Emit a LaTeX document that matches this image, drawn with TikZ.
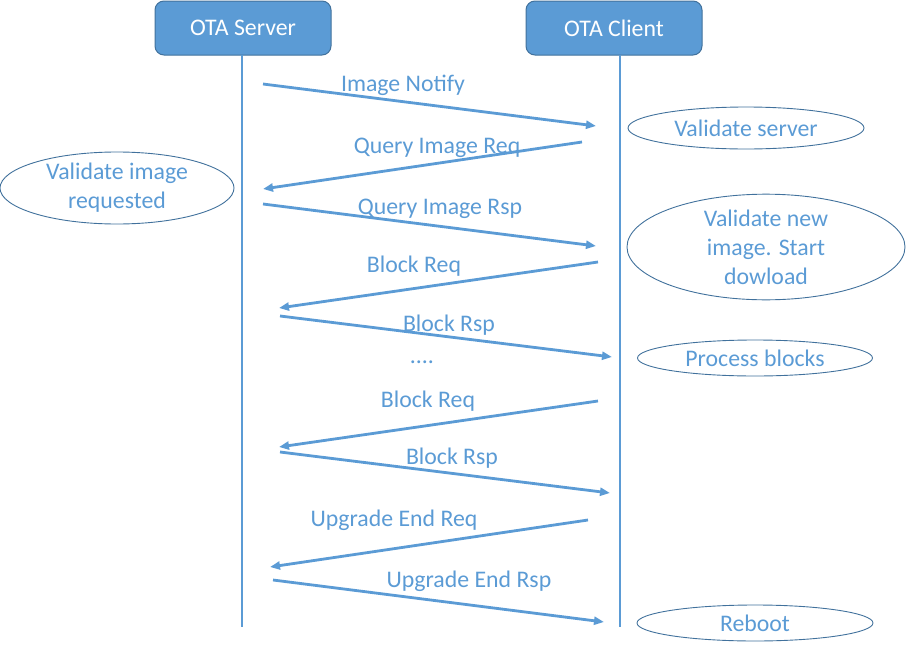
\documentclass[tikz,border=0pt]{standalone}
\usepackage{fontspec}
\setmainfont{Carlito}
\usetikzlibrary{shapes.geometric,arrows.meta}
\definecolor{lblue}{HTML}{5B9BD5}
\definecolor{dblue}{HTML}{41719C}
\begin{document}
\begin{tikzpicture}[x=1pt,y=-1pt,
  font=\fontsize{23.8}{29}\selectfont,
  actor/.style={draw=dblue,line width=1pt,fill=lblue,rounded corners=9pt,text=white,minimum width=176pt,minimum height=54pt,inner sep=0pt},
  life/.style={draw=lblue,line width=2.8pt},
  msg/.style={draw=lblue,line width=2.8pt,-{Triangle[length=10pt,width=8pt]}},
  lbl/.style={text=lblue,inner sep=0pt},
  note/.style={ellipse,draw=dblue,line width=0.9pt,text=lblue,align=center,inner sep=0pt}]
\useasboundingbox (0,0) rectangle (906,651);
\node[actor] (srv) at (243,28) {OTA Server};
\node[actor] (cli) at (614,28) {OTA Client};
\coordinate (srvEnd) at (242,627);
\coordinate (cliEnd) at (620,627);
\draw[life] (242,55) -- (srvEnd);
\draw[life] (620,55) -- (cliEnd);
% message endpoints
\coordinate (a1) at (263,84);  \coordinate (b1) at (596,126);
\coordinate (a2) at (582,142); \coordinate (b2) at (263,189);
\coordinate (a3) at (263,204); \coordinate (b3) at (596,246);
\coordinate (a4) at (598,262); \coordinate (b4) at (279,308);
\coordinate (a5) at (280,316); \coordinate (b5) at (612,357);
\coordinate (a6) at (598,401); \coordinate (b6) at (279,447);
\coordinate (a7) at (280,452); \coordinate (b7) at (610,493);
\coordinate (a8) at (588,520); \coordinate (b8) at (270,567);
\coordinate (a9) at (273,580); \coordinate (b9) at (604,622);
\draw[msg] (a1) -- (b1);
\draw[msg] (a2) -- (b2);
\draw[msg] (a3) -- (b3);
\draw[msg] (a4) -- (b4);
\draw[msg] (a5) -- (b5);
\draw[msg] (a6) -- (b6);
\draw[msg] (a7) -- (b7);
\draw[msg] (a8) -- (b8);
\draw[msg] (a9) -- (b9);
% labels
\node[lbl] (l1) at (403,85) {Image Notify};
\node[lbl] (l2) at (437,148) {Query Image Req};
\node[lbl] (l3) at (440,209) {Query Image Rsp};
\node[lbl] (l4) at (414,266) {Block Req};
\node[lbl] (l5) at (449,325) {Block Rsp};
\node[lbl] (dots) at (422,362) {....};
\node[lbl] (l6) at (428,401) {Block Req};
\node[lbl] (l7) at (452,458) {Block Rsp};
\node[lbl] (l8) at (394,520) {Upgrade End Req};
\node[lbl] (l9) at (469,581) {Upgrade End Rsp};
% notes
\node[note,minimum width=236pt,minimum height=42pt] (n1) at (746,128) {Validate server};
\node[note,minimum width=234pt,minimum height=72pt] (n2) at (117,188) {Validate image\\requested};
\node[note,minimum width=278pt,minimum height=90pt] (n3) at (766,247) {Validate new\\image. Start\\dowload};
\node[note,minimum width=235pt,minimum height=36pt] (n4) at (755,358) {Process blocks};
\node[note,minimum width=236pt,minimum height=36pt] (n5) at (755,623) {Reboot};
\end{tikzpicture}
\end{document}
